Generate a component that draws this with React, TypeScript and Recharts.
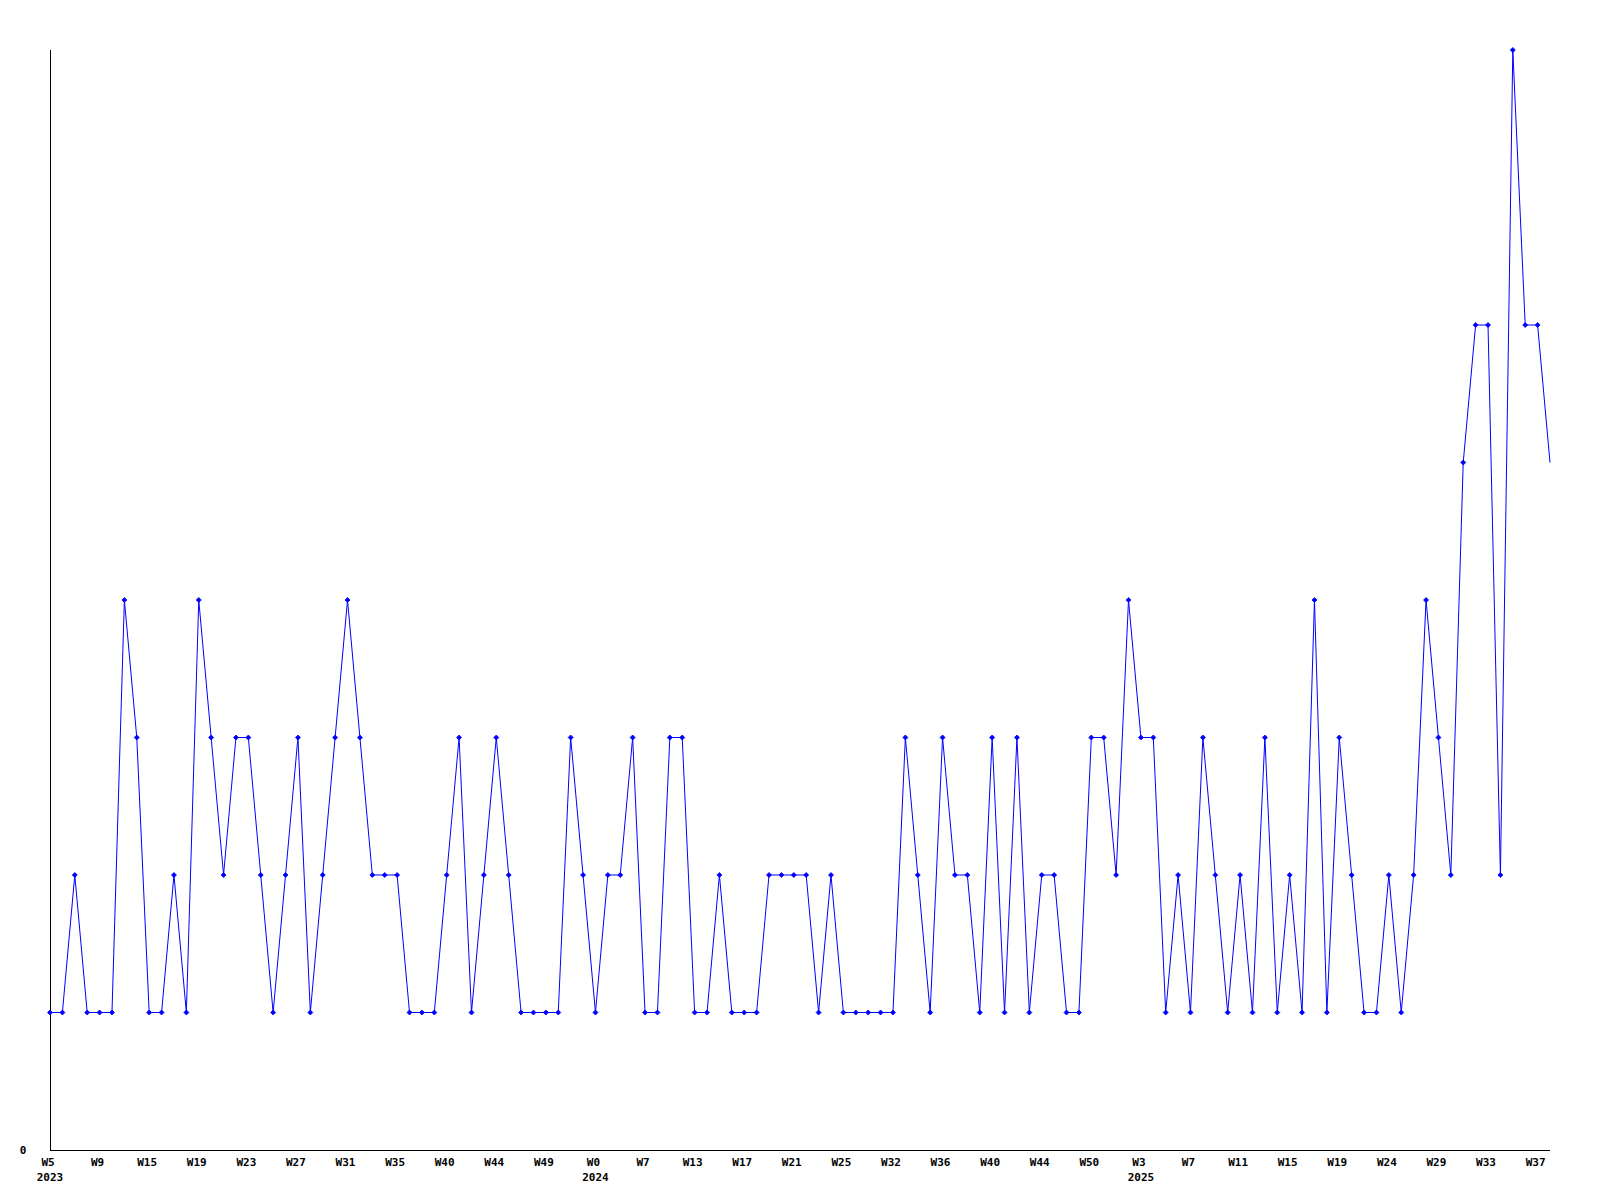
import { Line, LineChart, XAxis, YAxis } from "recharts";

// weekly counts, one per point
const weekValues = [
  1, 1, 2, 1, 1, 1, 4, 3, 1, 1,
  2, 1, 4, 3, 2, 3, 3, 2, 1, 2,
  3, 1, 2, 3, 4, 3, 2, 2, 2, 1,
  1, 1, 2, 3, 1, 2, 3, 2, 1, 1,
  1, 1, 3, 2, 1, 2, 2, 3, 1, 1,
  3, 3, 1, 1, 2, 1, 1, 1, 2, 2,
  2, 2, 1, 2, 1, 1, 1, 1, 1, 3,
  2, 1, 3, 2, 2, 1, 3, 1, 3, 1,
  2, 2, 1, 1, 3, 3, 2, 4, 3, 3,
  1, 2, 1, 3, 2, 1, 2, 1, 3, 1,
  2, 1, 4, 1, 3, 2, 1, 1, 2, 1,
  2, 4, 3, 2, 5, 6, 6, 2, 8, 6, 6, 5,
];

// labels shown on every 4th point
const tickLabels = [
  "W5", "W9", "W15", "W19", "W23", "W27", "W31", "W35", "W40", "W44", "W49",
  "W0", "W7", "W13", "W17", "W21", "W25", "W32", "W36", "W40", "W44", "W50",
  "W3", "W7", "W11", "W15", "W19", "W24", "W29", "W33", "W37",
];
const tickYears = [
  "2023", "", "", "", "", "", "", "", "", "", "",
  "2024", "", "", "", "", "", "", "", "", "", "",
  "2025", "", "", "", "", "", "", "", "",
];

const TICK_STEP = 4;
const FONT = "'DejaVu Sans Mono', monospace";

const data = weekValues.map((value, i) => ({ i, value }));

const WeekTick = ({ x, y, payload }: any) => {
  const n = payload.value / TICK_STEP;
  return (
    <g>
      <text x={x - 2} y={y} dy={8} textAnchor="middle" fontFamily={FONT} fontWeight="bold" fontSize={11} fill="#000">
        {tickLabels[n]}
      </text>
      {tickYears[n] ? (
        <text x={x} y={y} dy={23} textAnchor="middle" fontFamily={FONT} fontWeight="bold" fontSize={11} fill="#000">
          {tickYears[n]}
        </text>
      ) : null}
    </g>
  );
};

const ZeroTick = ({ y, payload }: any) => (
  <text x={23} y={y} dy={4} textAnchor="middle" fontFamily={FONT} fontWeight="bold" fontSize={11} fill="#000">
    {payload.value}
  </text>
);

const Marker = (props: any) => {
  const { cx, cy, index } = props;
  if (index === weekValues.length - 1) return <g key={`dot-${index}`} />;
  return (
    <path
      key={`dot-${index}`}
      d={`M${cx - 2.5},${cy} L${cx},${cy - 2.5} L${cx + 2.5},${cy} L${cx},${cy + 2.5} Z`}
      fill="#0000ff"
      stroke="#0000ff"
      strokeWidth={0.8}
    />
  );
};

const App = () => {
  return (
    <div style={{ position: "absolute", left: 0, top: 0, background: "#fff" }}>
      <LineChart width={1600} height={1200} data={data} margin={{ top: 50, right: 50, bottom: 0, left: 0 }}>
        <XAxis
          dataKey="i"
          type="category"
          interval={TICK_STEP - 1}
          height={50}
          tickLine={false}
          axisLine={{ stroke: "#000", strokeWidth: 1, shapeRendering: "crispEdges" }}
          tick={<WeekTick />}
        />
        <YAxis
          width={50}
          domain={[0, 8]}
          ticks={[0]}
          tickLine={false}
          axisLine={{ stroke: "#000", strokeWidth: 1, shapeRendering: "crispEdges" }}
          tick={<ZeroTick />}
        />
        <Line
          type="linear"
          dataKey="value"
          stroke="#0000ff"
          strokeWidth={1}
          dot={Marker}
          activeDot={false}
          isAnimationActive={false}
        />
      </LineChart>
    </div>
  );
};

export default App;
